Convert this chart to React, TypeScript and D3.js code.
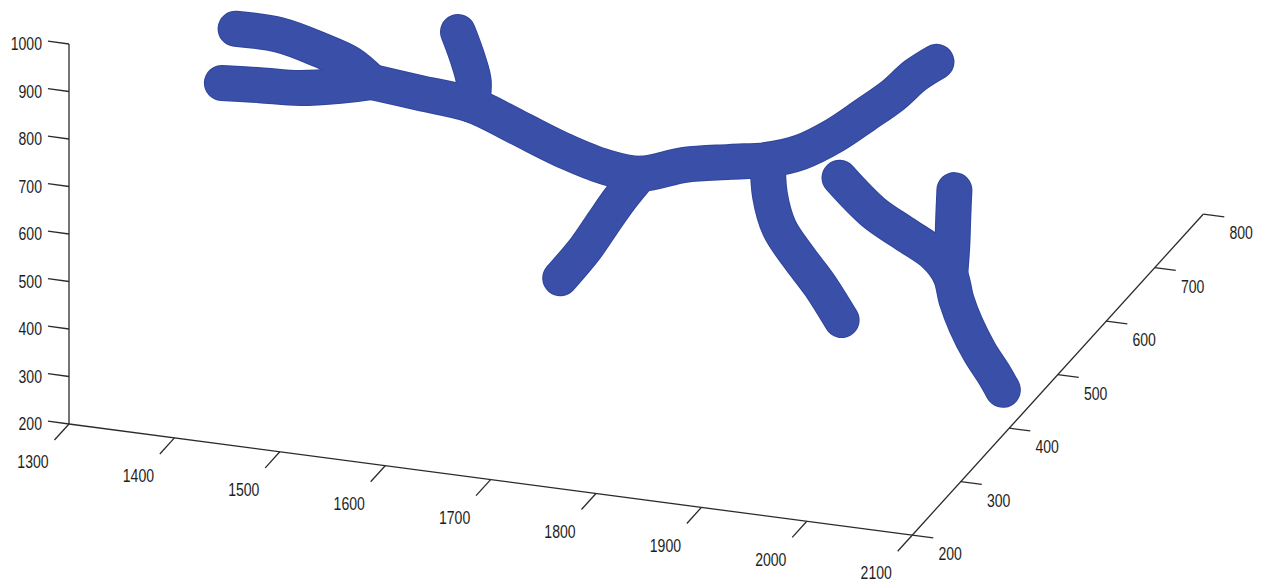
import React from "react";
import * as d3 from "d3";

// Tick values
const X_TICKS = [1300, 1400, 1500, 1600, 1700, 1800, 1900, 2000, 2100];
const Y_TICKS = [200, 300, 400, 500, 600, 700, 800, 900, 1000];
const Z_TICKS = [200, 300, 400, 500, 600, 700, 800];

// Branch centerlines as [x, y(vertical), z(depth)]
const branchUpperLeft: [number, number, number][] = [
  [1320, 700, 500], [1362, 699, 500], [1400, 679, 500], [1429, 658, 500], [1449, 626, 500],
];
const branchLowerLeft: [number, number, number][] = [
  [1307, 582, 500], [1343, 588, 500], [1381, 593, 500], [1419, 609, 500], [1449, 626, 500],
];
const trunk: [number, number, number][] = [
  [1449, 626, 500], [1495, 616, 500], [1544, 605, 500], [1587, 571, 500], [1634, 533, 500],
  [1670, 512, 500], [1704, 507, 500], [1746, 538, 500], [1789, 557, 500], [1825, 572, 500],
  [1856, 597, 500], [1889, 643, 500], [1917, 693, 500], [1944, 743, 500], [1965, 791, 500],
  [1985, 825, 500],
];
const branchUp: [number, number, number][] = [
  [1531, 755, 500], [1540, 703, 500], [1546, 654, 500], [1544, 605, 500],
];
const branchDownLeft: [number, number, number][] = [
  [1704, 507, 500], [1685, 450, 500], [1669, 395, 500], [1652, 335, 500], [1628, 265, 500],
];
const branchDownRight: [number, number, number][] = [
  [1825, 572, 500], [1827, 498, 500], [1836, 431, 500], [1854, 376, 500], [1874, 323, 500],
  [1895, 255, 500],
];
const sideTree: [number, number, number][] = [
  [1939, 680, 400], [1971, 617, 400], [2001, 580, 400], [2030, 544, 400], [2044, 506, 400],
  [2050, 455, 400], [2059, 405, 400], [2072, 352, 400], [2086, 308, 400], [2094, 279, 400],
];
const sideBranch: [number, number, number][] = [
  [2044, 506, 400], [2046, 570, 400], [2047, 633, 400], [2048, 686, 400],
];

const BRANCHES = [branchUpperLeft, branchLowerLeft, trunk, branchUp, branchDownLeft, branchDownRight, sideTree, sideBranch];

// Projection built from linear scales
const ORIGIN = [69, 424];
const sxFromX = d3.scaleLinear().domain([1300, 2100]).range([0, 843.2]);
const syFromX = d3.scaleLinear().domain([1300, 2100]).range([0, 111.2]);
const syFromY = d3.scaleLinear().domain([200, 1000]).range([0, -380]);
const sxFromZ = d3.scaleLinear().domain([200, 800]).range([0, 291]);
const syFromZ = d3.scaleLinear().domain([200, 800]).range([0, -321]);

function proj(x: number, y: number, z: number): [number, number] {
  return [
    ORIGIN[0] + sxFromX(x) + sxFromZ(z),
    ORIGIN[1] + syFromX(x) + syFromY(y) + syFromZ(z),
  ];
}

const AXIS = "#2b2b2b";
const TUBE = "#3a50a8";
const FONT = "'Liberation Sans', Arial, sans-serif";

function Label({ x, y, text, anchor }: { x: number; y: number; text: string; anchor: string }) {
  return (
    <text
      transform={`translate(${x},${y}) scale(0.74,1)`}
      textAnchor={anchor}
      dominantBaseline="central"
      fontFamily={FONT}
      fontSize={19}
      fill="#1e1e1e"
    >
      {text}
    </text>
  );
}

export default function App() {
  const line = d3
    .line<[number, number, number]>()
    .x((d) => proj(d[0], d[1], d[2])[0])
    .y((d) => proj(d[0], d[1], d[2])[1])
    .curve(d3.curveCatmullRom.alpha(0.5));

  const o = proj(1300, 200, 200);
  const yTop = proj(1300, 1000, 200);
  const xEnd = proj(2100, 200, 200);
  const zEnd = proj(2100, 200, 800);

  return (
    <svg width={1262} height={584} style={{ position: "absolute", left: 0, top: 0, background: "#fff" }}>
      {/* axes */}
      <g stroke={AXIS} strokeWidth={1.3} fill="none">
        <line x1={o[0]} y1={o[1]} x2={yTop[0]} y2={yTop[1]} />
        <line x1={o[0]} y1={o[1]} x2={xEnd[0]} y2={xEnd[1]} />
        <line x1={xEnd[0]} y1={xEnd[1]} x2={zEnd[0]} y2={zEnd[1]} />
        {Y_TICKS.map((t) => {
          const a = proj(1300, t, 200);
          const b = proj(1280, t, 200);
          return <line key={"yt" + t} x1={a[0]} y1={a[1]} x2={b[0]} y2={b[1]} />;
        })}
        {X_TICKS.map((t) => {
          const a = proj(t, 200, 200);
          const b = proj(t, 200, 170);
          return <line key={"xt" + t} x1={a[0]} y1={a[1]} x2={b[0]} y2={b[1]} />;
        })}
        {Z_TICKS.map((t) => {
          const a = proj(2100, 200, t);
          const b = proj(2120, 200, t);
          return <line key={"zt" + t} x1={a[0]} y1={a[1]} x2={b[0]} y2={b[1]} />;
        })}
      </g>
      {/* tick labels */}
      {Y_TICKS.map((t) => {
        const a = proj(1300, t, 200);
        return <Label key={"yl" + t} x={42} y={a[1]} text={String(t)} anchor="end" />;
      })}
      {X_TICKS.map((t) => {
        const a = proj(t, 200, 200);
        return <Label key={"xl" + t} x={a[0] - 36} y={a[1] + 38} text={String(t)} anchor="middle" />;
      })}
      {Z_TICKS.map((t) => {
        const a = proj(2100, 200, t);
        return <Label key={"zl" + t} x={a[0] + 38} y={a[1] + 19} text={String(t)} anchor="middle" />;
      })}
      {/* tubes */}
      <g fill="none" strokeLinecap="round" strokeLinejoin="round">
        {BRANCHES.map((b, i) => (
          <path key={"o" + i} d={line(b) || ""} stroke="#30459b" strokeWidth={36} />
        ))}
        {BRANCHES.map((b, i) => (
          <path key={"i" + i} d={line(b) || ""} stroke={TUBE} strokeWidth={34} />
        ))}
      </g>
    </svg>
  );
}
